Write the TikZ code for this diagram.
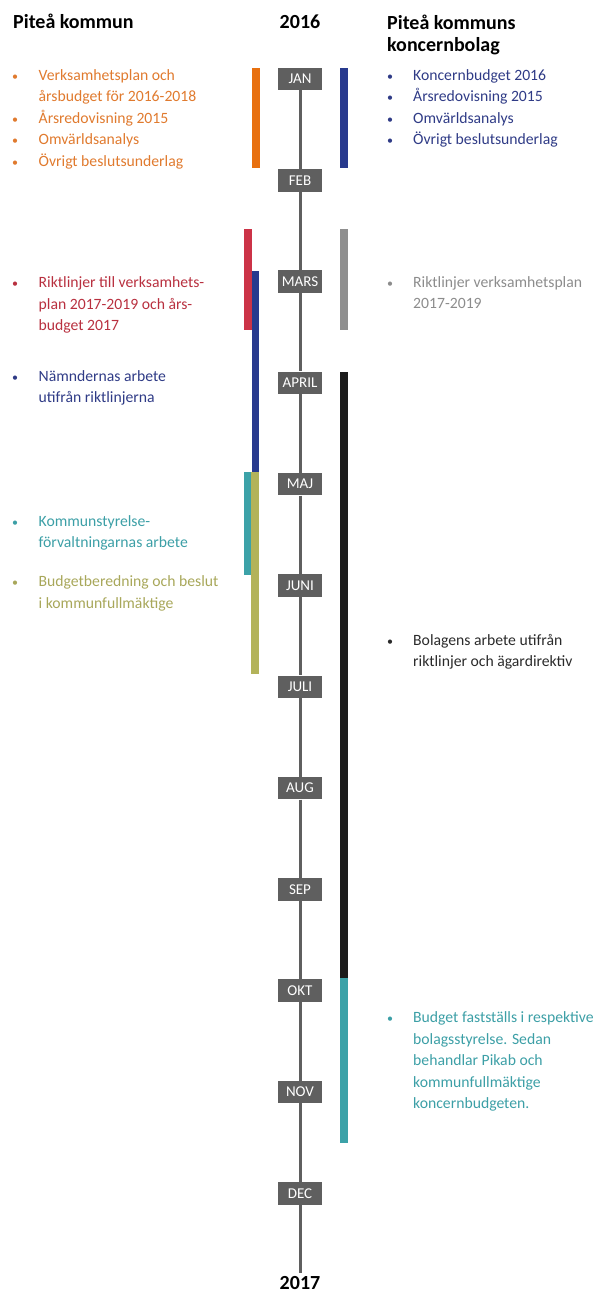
\documentclass[tikz,border=0pt]{standalone}
\usepackage{fontspec}
\setmainfont{Carlito}
\definecolor{boxgray}{HTML}{5F5F5F}
\definecolor{cOrange}{HTML}{E8700F}
\definecolor{tOrange}{HTML}{E07A2E}
\definecolor{cRed}{HTML}{CC3347}
\definecolor{tRed}{HTML}{B8303F}
\definecolor{cNavy}{HTML}{283A8E}
\definecolor{tNavy}{HTML}{2F3B86}
\definecolor{cTeal}{HTML}{3CA2A8}
\definecolor{tTeal}{HTML}{3C9FA6}
\definecolor{cOlive}{HTML}{B3B35A}
\definecolor{tOlive}{HTML}{A8A75A}
\definecolor{cGray}{HTML}{8F8F8F}
\definecolor{tGray}{HTML}{8C8C8C}
\definecolor{cBlack}{HTML}{1C1C1C}
\definecolor{tBlack}{HTML}{2A2A2A}
\newcommand\txtline[5]{\node[txt,#4,anchor=base west] (#1) at (#2,#3) {#5};}
\newcommand\bul[4]{\node[txt,#4,anchor=base,font=\fontsize{12}{14}\selectfont] (#1) at (#2,#3) {•};}
\begin{document}
\begin{tikzpicture}[x=1pt,y=-1pt,
  txt/.style={inner sep=0pt,font=\fontsize{15.7}{18}\selectfont},
  head/.style={inner sep=0pt,font=\fontsize{20}{22}\selectfont\bfseries,text=black},
  month/.style={fill=boxgray,text=white,minimum width=44pt,minimum height=22.5pt,inner sep=0pt,font=\fontsize{15}{16}\selectfont},
  tline/.style={draw=boxgray,line width=3pt}]
\path[use as bounding box] (0,0) rectangle (597,1294);
% headers
\node[head,anchor=base west] (hleft) at (13,28.5) {Piteå kommun};
\node[head,anchor=base] (y2016) at (300,28) {2016};
\node[head,anchor=base west] (hright1) at (387,29.3) {Piteå kommuns};
\node[head,anchor=base west] (hright2) at (387,51.7) {koncernbolag};
\node[head,anchor=base] (y2017) at (300,1289.5) {2017};
% months
\node[month] (jan) at (300,79) {JAN};
\node[month] (feb) at (300,180.3) {FEB};
\node[month] (mar) at (300,281.6) {MARS};
\node[month] (apr) at (300,382.9) {APRIL};
\node[month] (maj) at (300,484.2) {MAJ};
\node[month] (jun) at (300,585.5) {JUNI};
\node[month] (jul) at (300,686.8) {JULI};
\node[month] (aug) at (300,788.1) {AUG};
\node[month] (sep) at (300,889.4) {SEP};
\node[month] (okt) at (300,990.7) {OKT};
\node[month] (nov) at (300,1092) {NOV};
\node[month] (dec) at (300,1193.3) {DEC};
\coordinate (tend) at (300,1273);
\draw[tline] (jan.south) -- (feb.north) (feb.south) -- (mar.north) (mar.south) -- (apr.north)
  (apr.south) -- (maj.north) (maj.south) -- (jun.north) (jun.south) -- (jul.north)
  (jul.south) -- (aug.north) (aug.south) -- (sep.north) (sep.south) -- (okt.north)
  (okt.south) -- (nov.north) (nov.south) -- (dec.north) (dec.south) -- (tend);
% bars
\fill[cOrange] (252,68) rectangle (259.5,168);
\fill[cNavy] (340,68) rectangle (347.5,168);
\fill[cRed] (244,229) rectangle (251.5,330);
\fill[cNavy] (251.5,271) rectangle (259,472);
\fill[cTeal] (243.5,472) rectangle (251,575);
\fill[cOlive] (251,472) rectangle (259,674);
\fill[cGray] (340,229) rectangle (347.5,330);
\fill[cBlack] (340,372) rectangle (347.5,978);
\fill[cTeal] (340,978) rectangle (347.5,1143);
% left: orange
\bul{ob1}{15}{80}{text=tOrange}
\txtline{o1}{38.5}{80}{text=tOrange}{Verksamhetsplan och}
\txtline{o1b}{38.5}{101.5}{text=tOrange}{årsbudget för 2016-2018}
\bul{ob2}{15}{123}{text=tOrange}
\txtline{o2}{38.5}{123}{text=tOrange}{Årsredovisning 2015}
\bul{ob3}{15}{144.5}{text=tOrange}
\txtline{o3}{38.5}{144.5}{text=tOrange}{Omvärldsanalys}
\bul{ob4}{15}{166}{text=tOrange}
\txtline{o4}{38.5}{166}{text=tOrange}{Övrigt beslutsunderlag}
% right: navy
\bul{nb1}{390}{80}{text=tNavy}
\txtline{n1}{413}{80}{text=tNavy}{Koncernbudget 2016}
\bul{nb2}{390}{101.5}{text=tNavy}
\txtline{n2}{413}{101.5}{text=tNavy}{Årsredovisning 2015}
\bul{nb3}{390}{123}{text=tNavy}
\txtline{n3}{413}{123}{text=tNavy}{Omvärldsanalys}
\bul{nb4}{390}{144.5}{text=tNavy}
\txtline{n4}{413}{144.5}{text=tNavy}{Övrigt beslutsunderlag}
% left: red
\bul{rb1}{15}{287.5}{text=tRed}
\txtline{r1}{38.5}{287.5}{text=tRed}{Riktlinjer till verksamhets-}
\txtline{r2}{38.5}{309}{text=tRed}{plan 2017-2019 och års-}
\txtline{r3}{38.5}{330.5}{text=tRed}{budget 2017}
% left: navy
\bul{lnb}{15}{381}{text=tNavy}
\txtline{ln1}{38.5}{381}{text=tNavy}{Nämndernas arbete}
\txtline{ln2}{38.5}{402.5}{text=tNavy}{utifrån riktlinjerna}
% left: teal
\bul{tb}{15}{526}{text=tTeal}
\txtline{t1}{38.5}{526}{text=tTeal}{Kommunstyrelse-}
\txtline{t2}{38.5}{547.5}{text=tTeal}{förvaltningarnas arbete}
% left: olive
\bul{olb}{15}{586}{text=tOlive}
\txtline{ol1}{38.5}{586}{text=tOlive}{Budgetberedning och beslut}
\txtline{ol2}{38.5}{608}{text=tOlive}{i kommunfullmäktige}
% right: gray
\bul{gb}{390}{287.5}{text=tGray}
\txtline{g1}{413}{287.5}{text=tGray}{Riktlinjer verksamhetsplan}
\txtline{g2}{413}{308.5}{text=tGray}{2017-2019}
% right: black
\bul{bb}{390}{645}{text=tBlack}
\txtline{b1}{413}{645}{text=tBlack}{Bolagens arbete utifrån}
\txtline{b2}{413}{666.5}{text=tBlack}{riktlinjer och ägardirektiv}
% right: teal
\bul{rtb}{390}{1022.5}{text=tTeal}
\txtline{rt1}{413}{1022.5}{text=tTeal}{Budget fastställs i respektive}
\txtline{rt2}{413}{1044}{text=tTeal}{bolagsstyrelse. Sedan}
\txtline{rt3}{413}{1065.5}{text=tTeal}{behandlar Pikab och}
\txtline{rt4}{413}{1087}{text=tTeal}{kommunfullmäktige}
\txtline{rt5}{413}{1108.5}{text=tTeal}{koncernbudgeten.}
\end{tikzpicture}
\end{document}
